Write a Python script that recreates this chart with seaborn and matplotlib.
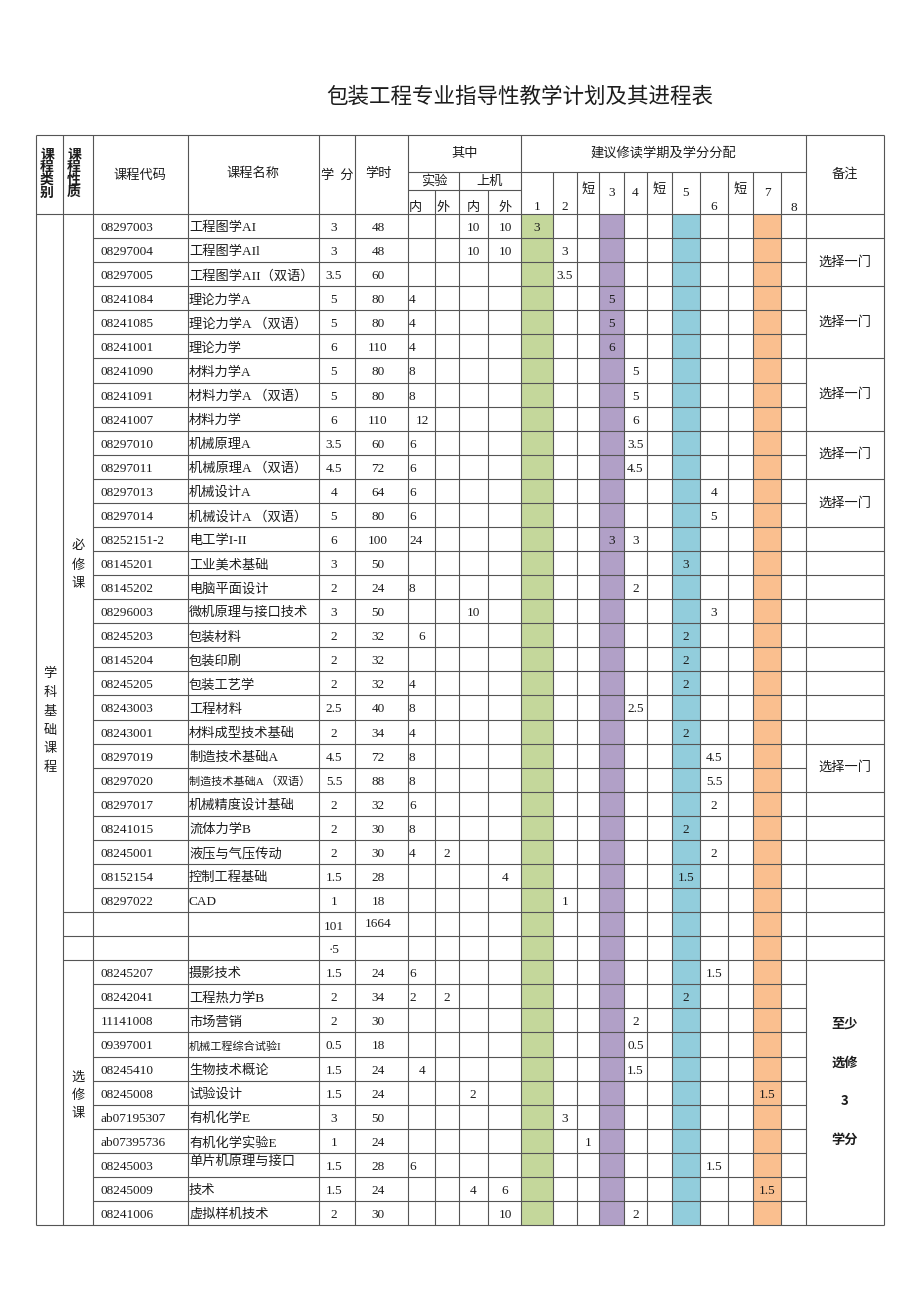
import matplotlib
matplotlib.use("Agg")
import matplotlib.pyplot as plt
import seaborn as sns

# 包装工程专业指导性教学计划及其进程表
sns.set_theme(style="white")
plt.rcParams['font.family'] = ['Liberation Serif', 'Noto Sans CJK SC', 'DejaVu Sans']

title = "包装工程专业指导性教学计划及其进程表"

codes = ["08297003", "08297004", "08297005", "08241084", "08241085", "08241001", "08241090",
         "08241091", "08241007", "08297010", "08297011", "08297013", "08297014", "08252151-2",
         "08145201", "08145202", "08296003", "08245203", "08145204", "08245205", "08243003",
         "08243001", "08297019", "08297020", "08297017", "08241015", "08245001", "08152154",
         "08297022", "", "", "08245207", "08242041", "11141008", "09397001", "08245410",
         "08245008", "ab07195307", "ab07395736", "08245003", "08245009", "08241006"]
names = ["工程图学AI", "工程图学AIl", "工程图学AII（双语）", "理论力学A", "理论力学A （双语）", "理论力学",
         "材料力学A", "材料力学A （双语）", "材料力学", "机械原理A", "机械原理A （双语）", "机械设计A",
         "机械设计A （双语）", "电工学I-II", "工业美术基础", "电脑平面设计", "微机原理与接口技术", "包装材料",
         "包装印刷", "包装工艺学", "工程材料", "材料成型技术基础", "制造技术基础A", "制造技术基础A （双语）",
         "机械精度设计基础", "流体力学B", "液压与气压传动", "控制工程基础", "CAD", "", "", "摄影技术",
         "工程热力学B", "市场营销", "机械工程综合试验I", "生物技术概论", "试验设计", "有机化学E",
         "有机化学实验E", "单片机原理与接口", "技术", "虚拟样机技术"]
credits = ["3", "3", "3.5", "5", "5", "6", "5", "5", "6", "3.5", "4.5", "4", "5", "6", "3", "2", "3",
           "2", "2", "2", "2.5", "2", "4.5", "5.5", "2", "2", "2", "1.5", "1", "101", "·5", "1.5", "2",
           "2", "0.5", "1.5", "1.5", "3", "1", "1.5", "1.5", "2"]
hours = ["48", "48", "60", "80", "80", "110", "80", "80", "110", "60", "72", "64", "80", "100", "50",
         "24", "50", "32", "32", "32", "40", "34", "72", "88", "32", "30", "30", "28", "18", "1664", "",
         "24", "34", "30", "18", "24", "24", "50", "24", "28", "24", "30"]
lab_in = ["", "", "", "4", "4", "4", "8", "8", "12", "6", "6", "6", "6", "24", "", "8", "", "6", "",
          "4", "8", "4", "8", "8", "6", "8", "4", "", "", "", "", "6", "2", "", "", "4", "", "", "",
          "6", "", ""]
lab_out = [""] * 26 + ["2"] + [""] * 5 + ["2"] + [""] * 9
pc_in = ["10", "10"] + [""] * 14 + ["10"] + [""] * 19 + ["2", "", "", "", "4", ""]
pc_out = ["10", "10"] + [""] * 25 + ["4"] + [""] * 12 + ["6", "10"]

# 学期列: 1, 2, 短, 3, 4, 短, 5, 6, 短, 7, 8
term_keys = ["1", "2", "s1", "3", "4", "s2", "5", "6", "s3", "7", "8"]
term_labels = ["1", "2", "短", "3", "4", "短", "5", "6", "短", "7", "8"]
term_credits = [{"1": "3"}, {"2": "3"}, {"2": "3.5"}, {"3": "5"}, {"3": "5"}, {"3": "6"},
                {"4": "5"}, {"4": "5"}, {"4": "6"}, {"4": "3.5"}, {"4": "4.5"}, {"6": "4"},
                {"6": "5"}, {"3": "3", "4": "3"}, {"5": "3"}, {"4": "2"}, {"6": "3"}, {"5": "2"},
                {"5": "2"}, {"5": "2"}, {"4": "2.5"}, {"5": "2"}, {"6": "4.5"}, {"6": "5.5"},
                {"6": "2"}, {"5": "2"}, {"6": "2"}, {"5": "1.5"}, {"2": "1"}, {}, {},
                {"6": "1.5"}, {"5": "2"}, {"4": "2"}, {"4": "0.5"}, {"4": "1.5"}, {"7": "1.5"},
                {"2": "3"}, {"s1": "1"}, {"6": "1.5"}, {"7": "1.5"}, {"4": "2"}]
term_colors = {"1": "#c4d79b", "3": "#b1a0c7", "5": "#92cddc", "7": "#fabf8f"}

# 备注合并 (起始行, 结束行, 文本), 行号从1开始
remark_groups = [(2, 3, "选择一门"), (4, 6, "选择一门"), (7, 9, "选择一门"), (10, 11, "选择一门"),
                 (12, 13, "选择一门"), (23, 24, "选择一门"), (32, 42, "")]
elective_note = ["至少", "选修", "3", "学分"]

# ---- layout (pixels) ----
W, H = 920, 1302
x_cat, x_nat, x_code, x_name, x_cr, x_hr = 36, 63, 93, 188, 319, 355
x_lab, x_lab2, x_pc, x_pc2, x_term0 = 408, 435, 459, 488, 521
term_edges = [521, 553, 577, 599, 624, 647, 672, 700, 728, 753, 781, 806]
x_rmk, x_right = 806, 884
y_top, y_h1, y_h2, y_body, y_bot = 135, 172, 190, 214, 1225
n_rows = len(codes)
row_h = (y_bot - y_body) / n_rows
row_y = [y_body + i * row_h for i in range(n_rows + 1)]

fig = plt.figure(figsize=(W / 100, H / 100), dpi=100)
ax = fig.add_axes([0, 0, 1, 1])
ax.set_xlim(0, W)
ax.set_ylim(H, 0)
ax.axis("off")

TXT = "#1c1c1c"
LINE = "#555555"
LW = 0.8
SANS = ["Noto Sans CJK SC", "DejaVu Sans"]

# 颜色列
for k, c in term_colors.items():
    i = term_keys.index(k)
    ax.fill_between([term_edges[i], term_edges[i + 1]], y_body, y_bot, color=c, lw=0)

# 标题
ax.text(520, 97, title, ha="center", va="center", fontsize=15.5, family=SANS, color=TXT)

# 竖线
for x in [x_cat, x_nat, x_code, x_name, x_cr, x_hr, x_lab, x_term0, x_rmk, x_right]:
    ax.vlines(x, y_top, y_bot, color=LINE, lw=LW)
ax.vlines([x_lab2, x_pc2], y_h2, y_bot, color=LINE, lw=LW)
ax.vlines([x_pc] + term_edges[1:-1], y_h1, y_bot, color=LINE, lw=LW)

# 表头横线
ax.hlines([y_top, y_body, y_bot], x_cat, x_right, color=LINE, lw=LW)
ax.hlines(y_h1, x_lab, x_rmk, color=LINE, lw=LW)
ax.hlines(y_h2, x_lab, x_term0, color=LINE, lw=LW)

# 行线
merged = set()
for a, b, _ in remark_groups:
    merged.update(range(a, b))
for r in range(1, n_rows):
    y = row_y[r]
    x0 = x_nat if r in (29, 30, 31) else x_code
    ax.hlines(y, x0, x_rmk, color=LINE, lw=LW)
    if r not in merged:
        ax.hlines(y, x_rmk, x_right, color=LINE, lw=LW)

# 表头文字
def vtext(x, y0, step, s, **kw):
    for j, ch in enumerate(s):
        ax.text(x, y0 + j * step, ch, ha="center", va="center", color=TXT, **kw)

vtext(47, 155, 12.5, "课程类别", fontsize=10, family=SANS, fontweight="bold")
vtext(74, 155, 12.5, "课程性质", fontsize=10, family=SANS, fontweight="bold")
hdr = dict(ha="center", va="center", fontsize=9.5, family=SANS, color=TXT)
ax.text(140, 175, "课程代码", **hdr)
ax.text(253, 174, "课程名称", **hdr)
ax.text(337, 175, "学  分", **hdr)
ax.text(378, 174, "学时", **hdr)
ax.text(465, 153, "其中", **hdr)
ax.text(434, 181, "实验", **hdr)
ax.text(490, 181, "上机", **hdr)
for x, s in zip([415, 443, 473, 505], ["内", "外", "内", "外"]):
    ax.text(x, 207, s, **hdr)
ax.text(663, 153, "建议修读学期及学分分配", **hdr)
ax.text(845, 174, "备注", **hdr)
term_hy = [207, 207, 189, 193, 193, 189, 193, 207, 189, 193, 208]
for i, lab in enumerate(term_labels):
    xc = (term_edges[i] + term_edges[i + 1]) / 2
    ax.text(xc, term_hy[i], lab, ha="center", va="center", fontsize=9.5, color=TXT,
            family=SANS if lab == "短" else ["Liberation Serif"])

# 分组文字
vtext(50, 674, 18.7, "学科基础课程", fontsize=9.5, family=SANS)
vtext(78, 546, 19, "必修课", fontsize=9.5, family=SANS)
vtext(78, 1077, 18, "选修课", fontsize=9.5, family=SANS)

# 数据
body = dict(va="center", fontsize=9.5, color=TXT)
lab_centered = {8, 17, 35}
for r in range(n_rows):
    yc = (row_y[r] + row_y[r + 1]) / 2 + 2
    ax.text(101, yc, codes[r], ha="left", **body)
    nfs = 8 if r in (23, 34) else 9.5
    ny = yc - 5 if r == 39 else yc
    ax.text(189, ny, names[r], ha="left", va="center", fontsize=nfs, color=TXT)
    ax.text(334, yc if r != 29 else yc + 1, credits[r], ha="center", **body)
    ax.text(378, yc if r != 29 else yc - 2, hours[r], ha="center", **body)
    if r in lab_centered:
        ax.text(422, yc, lab_in[r], ha="center", **body)
    else:
        ax.text(409, yc, lab_in[r], ha="left", **body)
    ax.text(447, yc, lab_out[r], ha="center", **body)
    ax.text(473, yc, pc_in[r], ha="center", **body)
    ax.text(505, yc, pc_out[r], ha="center", **body)
    for k, v in term_credits[r].items():
        i = term_keys.index(k)
        ax.text((term_edges[i] + term_edges[i + 1]) / 2, yc, v, ha="center", **body)

# 备注
for a, b, s in remark_groups:
    yc = (row_y[a - 1] + row_y[b]) / 2
    if s:
        ax.text(845, yc, s, ha="center", va="center", fontsize=9.5, family=SANS, color=TXT)
for j, s in enumerate(elective_note):
    ax.text(845, 1024 + j * 38.5, s, ha="center", va="center", fontsize=9.5, family=SANS,
            fontweight="bold", color=TXT)

fig.savefig("out.png", dpi=100, facecolor="white")
